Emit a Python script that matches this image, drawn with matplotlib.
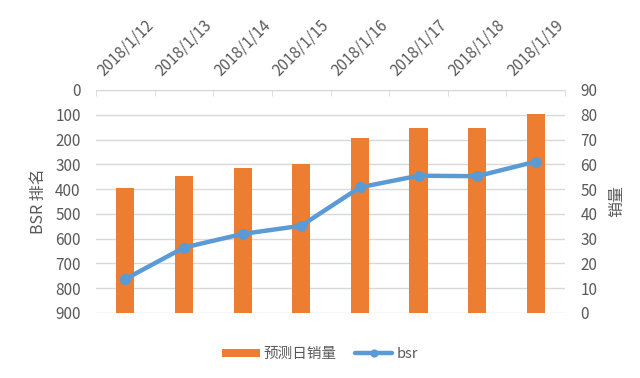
import matplotlib
matplotlib.use("Agg")
import matplotlib.pyplot as plt
from matplotlib.ticker import MultipleLocator

plt.rcParams['font.family'] = ['Noto Sans CJK SC', 'DejaVu Sans']

ORANGE = "#ED7D31"
BLUE = "#5B9BD5"
GRAY_TEXT = "#595959"
GRID = "#D9D9D9"

dates = ["2018/1/12", "2018/1/13", "2018/1/14", "2018/1/15",
         "2018/1/16", "2018/1/17", "2018/1/18", "2018/1/19"]
sales = [50.3, 55.4, 58.4, 60.0, 70.8, 74.8, 74.8, 80.3]
bsr = [763, 636, 581, 548, 393, 346, 348, 289]

fig = plt.figure(figsize=(6.4, 3.78), dpi=100)
ax = fig.add_axes([0.15, 0.172, 0.733, 0.59])
ax2 = ax.twinx()

x = list(range(len(dates)))

# bars on the right axis (sales), line on the left axis (bsr, inverted)
ax2.bar(x, sales, width=0.31, color=ORANGE, zorder=2, label="预测日销量")
ax2.set_ylim(0, 90)
ax2.yaxis.set_major_locator(MultipleLocator(10))
ax2.grid(axis="y", color=GRID, linewidth=1, zorder=0)
ax2.set_axisbelow(True)

ax.plot(x, bsr, color=BLUE, linewidth=3.2, marker="o", markersize=7,
        solid_capstyle="round", zorder=3, label="bsr")
ax.set_ylim(900, 0)
ax.yaxis.set_major_locator(MultipleLocator(100))
ax.set_zorder(ax2.get_zorder() + 1)
ax.patch.set_visible(False)

ax.set_xlim(-0.5, len(dates) - 0.5)
ax.xaxis.tick_top()
ax.set_xticks(x)
ax.set_xticklabels(dates, rotation=45, ha="center", va="bottom")
ax.set_xticks([i - 0.5 for i in range(len(dates) + 1)], minor=True)
ax.tick_params(axis="x", which="major", length=0, pad=8, labelsize=11,
               labelcolor=GRAY_TEXT)
ax.tick_params(axis="x", which="minor", length=4, direction="in", color=GRID,
               top=True, bottom=False)

for a in (ax, ax2):
    for side in ("left", "right", "bottom"):
        a.spines[side].set_visible(False)
    a.spines["top"].set_color(GRID)
    a.tick_params(axis="y", length=0, pad=11, labelsize=11,
                  labelcolor=GRAY_TEXT)
ax2.spines["top"].set_visible(False)

ax.set_ylabel("BSR 排名", fontsize=11.5, color=GRAY_TEXT, labelpad=6)
ax2.set_ylabel("销量", fontsize=11.5, color=GRAY_TEXT, rotation=90, labelpad=8)

h1, l1 = ax2.get_legend_handles_labels()
h2, l2 = ax.get_legend_handles_labels()
fig.legend(h1 + h2, l1 + l2, loc="lower center", bbox_to_anchor=(0.5, 0.01),
           ncol=2, frameon=False, fontsize=10.5, labelcolor=GRAY_TEXT,
           handlelength=2.6, handleheight=0.5, columnspacing=1.2,
           handletextpad=0.3, markerscale=0.7)

fig.savefig("out.png", dpi=100)
